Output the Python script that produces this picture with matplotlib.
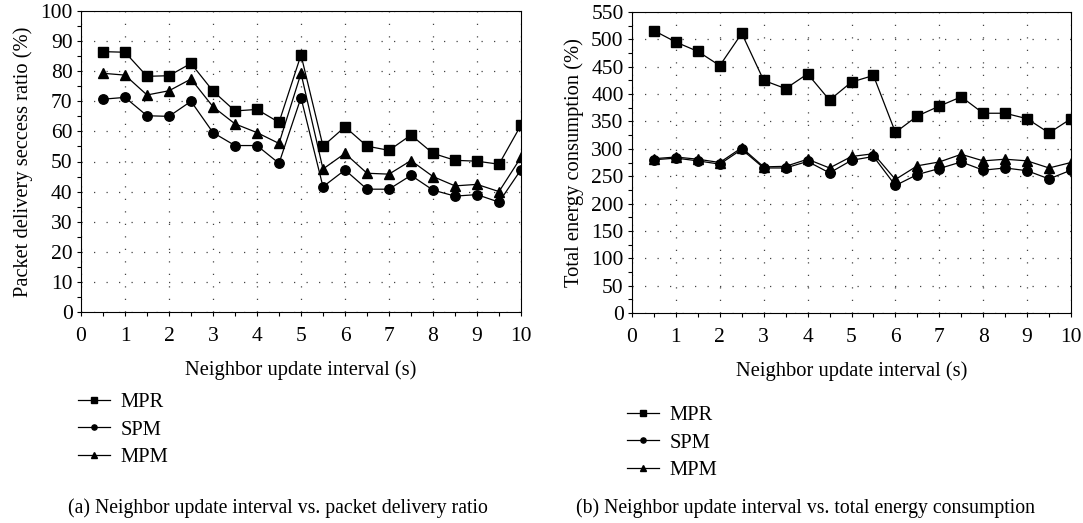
import matplotlib
matplotlib.use("Agg")
import matplotlib.pyplot as plt
from matplotlib.ticker import MultipleLocator

plt.rcParams['font.family'] = ['Liberation Serif', 'DejaVu Serif']

x = [0.5, 1, 1.5, 2, 2.5, 3, 3.5, 4, 4.5, 5, 5.5, 6, 6.5, 7, 7.5, 8, 8.5, 9, 9.5, 10]

pdr_mpr = [86.5, 86.3, 78.3, 78.5, 82.6, 73.4, 66.8, 67.3, 63.0, 85.4,
           55.1, 61.5, 55.1, 53.7, 58.8, 52.7, 50.4, 50.1, 49.1, 62.1]
pdr_spm = [70.7, 71.3, 65.2, 65.0, 70.0, 59.6, 55.3, 55.3, 49.4, 71.2,
           41.6, 47.2, 40.8, 40.8, 45.4, 40.5, 38.5, 39.0, 36.5, 47.3]
pdr_mpm = [79.3, 78.7, 72.1, 73.5, 77.4, 68.2, 62.5, 59.6, 56.0, 79.3,
           47.5, 52.7, 46.1, 45.8, 50.3, 45.0, 41.9, 42.4, 40.0, 51.4]

en_mpr = [516, 495, 478, 452, 511, 425, 410, 437, 389, 422,
          434, 330, 360, 378, 395, 365, 365, 355, 329, 355]
en_spm = [280, 283, 278, 272, 299, 265, 265, 277, 256, 279,
          286, 233, 253, 264, 276, 261, 265, 260, 245, 261]
en_mpm = [282, 285, 281, 275, 302, 267, 268, 281, 265, 286,
          291, 244, 269, 276, 290, 278, 281, 278, 265, 275]

labels = ['MPR', 'SPM', 'MPM']
markers = ['s', 'o', '^']

W, H = 1083, 523
fig = plt.figure(figsize=(W / 100, H / 100), dpi=100)

FS = 14.8
TFS = 15.5
CFS = 14.2

def make_axes(rect_px, series, ymax, ystep, ylabel, leg_xy, caption, cap_x):
    l, t, r, b = rect_px
    ax = fig.add_axes([l / W, 1 - b / H, (r - l) / W, (b - t) / H])
    for ys, lab, m in zip(series, labels, markers):
        ax.plot(x, ys, color='black', lw=0.9, marker=m, ms=6.8 if m != '^' else 7.5,
                markerfacecolor='black', markeredgecolor='black', label=lab)
    ax.set_xlim(0, 10)
    ax.set_ylim(0, ymax)
    ax.xaxis.set_major_locator(MultipleLocator(1))
    ax.xaxis.set_minor_locator(MultipleLocator(0.5))
    ax.yaxis.set_major_locator(MultipleLocator(ystep))
    ax.yaxis.set_minor_locator(MultipleLocator(ystep / 2))
    ax.tick_params(which='both', direction='out', labelsize=TFS, width=0.8, length=3)
    ax.tick_params(axis='x', which='both', pad=8)
    ax.tick_params(axis='y', which='both', pad=3)
    for s in ax.spines.values():
        s.set_linewidth(0.8)
    ax.grid(True, which='major', axis='both', color='#444444', lw=0.9,
            linestyle=(0, (1, 9)))
    ax.set_axisbelow(True)
    ax.set_xlabel('Neighbor update interval (s)', fontsize=FS, labelpad=10)
    ax.set_ylabel(ylabel, fontsize=FS, labelpad=5)
    ax.legend(loc='upper left', bbox_to_anchor=(leg_xy[0] / W, 1 - leg_xy[1] / H),
              bbox_transform=fig.transFigure, frameon=False, fontsize=FS,
              markerscale=0.55, handlelength=1.55, handletextpad=0.5,
              labelspacing=0.38, borderpad=0, borderaxespad=0)
    fig.text(cap_x / W, 1 - 508 / H, caption, ha='center', va='center', fontsize=CFS)
    return ax

make_axes((81, 11, 521, 312), [pdr_mpr, pdr_spm, pdr_mpm], 100, 10,
          'Packet delivery seccess ratio (%)', (78, 393),
          '(a) Neighbor update interval vs. packet delivery ratio', 278)
make_axes((632, 12, 1071, 313), [en_mpr, en_spm, en_mpm], 550, 50,
          'Total energy consumption (%)', (627, 406),
          '(b) Neighbor update interval vs. total energy consumption', 806)

fig.savefig('out.png', dpi=100)
